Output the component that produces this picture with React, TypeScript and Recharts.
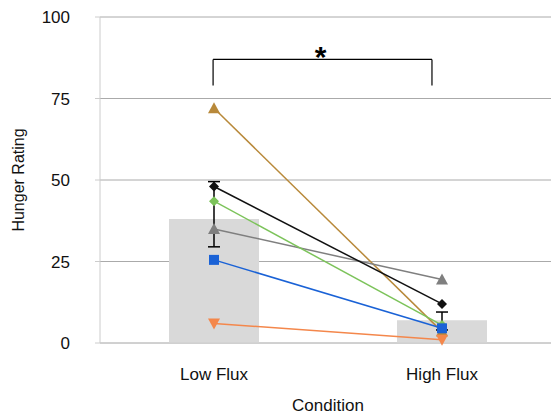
import {
  Bar,
  CartesianGrid,
  ComposedChart,
  ErrorBar,
  Label,
  Line,
  ReferenceLine,
  XAxis,
  YAxis,
} from "recharts";

const conditions = ["Low Flux", "High Flux"];
const meanRating = [38, 7];
const errorSpan = [
  [8.5, 11.5],
  [3, 2.5],
];
const goldRatings = [72, 3.5];
const blackRatings = [48, 12];
const greenRatings = [43.5, 5.5];
const grayRatings = [35, 19.5];
const blueRatings = [25.5, 4.5];
const orangeRatings = [6, 1];
const yTicks = [0, 25, 50, 75, 100];
// significance bracket, x in fraction of plot width
const bracketX = [0.248, 0.728];
const bracketTop = 87;
const bracketFoot = 79;

const data = conditions.map((name, i) => ({
  name,
  mean: meanRating[i],
  err: errorSpan[i],
  gold: goldRatings[i],
  black: blackRatings[i],
  green: greenRatings[i],
  gray: grayRatings[i],
  blue: blueRatings[i],
  orange: orangeRatings[i],
}));

const font = "'Liberation Sans', Arial, sans-serif";

function marker(shape: string, color: string) {
  return (props: any) => {
    const { cx, cy, index } = props;
    const k = `${shape}-${color}-${index}`;
    if (shape === "up")
      return <polygon key={k} points={`${cx},${cy - 6} ${cx - 6},${cy + 5} ${cx + 6},${cy + 5}`} fill={color} />;
    if (shape === "down")
      return <polygon key={k} points={`${cx},${cy + 6} ${cx - 6},${cy - 5} ${cx + 6},${cy - 5}`} fill={color} />;
    if (shape === "diamond")
      return <polygon key={k} points={`${cx},${cy - 5} ${cx + 5},${cy} ${cx},${cy + 5} ${cx - 5},${cy}`} fill={color} />;
    return <rect key={k} x={cx - 5} y={cy - 5} width={10} height={10} fill={color} />;
  };
}

const series = [
  { key: "gold", color: "#b8893a", shape: "up" },
  { key: "orange", color: "#f4874b", shape: "down" },
  { key: "gray", color: "#7f7f7f", shape: "up" },
  { key: "green", color: "#7cc35a", shape: "diamond" },
  { key: "black", color: "#111111", shape: "diamond" },
  { key: "blue", color: "#1a62d6", shape: "square" },
];

export default function App() {
  return (
    <div style={{ position: "absolute", left: 0, top: 0, width: 551, overflow: "hidden" }}>
      <ComposedChart
        width={551}
        height={415}
        data={data}
        margin={{ top: 17, right: -5, bottom: 0, left: 0 }}
        style={{ fontFamily: font }}
      >
        <CartesianGrid vertical={false} stroke="#aaaaaa" />
        <XAxis
          dataKey="name"
          height={72}
          tickLine={false}
          axisLine={{ stroke: "#cccccc" }}
          tickMargin={19}
          tick={{ fill: "#111", fontSize: 17 }}
        >
          <Label value="Condition" position="insideBottom" offset={4} fill="#111" fontSize={17} />
        </XAxis>
        <XAxis xAxisId="bracket" type="number" domain={[0, 1]} hide />
        <YAxis
          width={100}
          domain={[0, 100]}
          ticks={yTicks}
          tickSize={5}
          tickMargin={25}
          tickLine={{ stroke: "#cccccc" }}
          axisLine={{ stroke: "#cccccc" }}
          tick={{ fill: "#111", fontSize: 17 }}
        >
          <Label value="Hunger Rating" angle={-90} position="center" dx={-32} fill="#111" fontSize={16} />
        </YAxis>
        <Bar dataKey="mean" fill="#d9d9d9" barSize={90} isAnimationActive={false}>
          <ErrorBar dataKey="err" width={6} stroke="#000" strokeWidth={1.5} />
        </Bar>
        {series.map((s) => (
          <Line
            key={s.key}
            dataKey={s.key}
            stroke={s.color}
            strokeWidth={1.5}
            dot={marker(s.shape, s.color)}
            activeDot={false}
            isAnimationActive={false}
          />
        ))}
        <ReferenceLine
          xAxisId="bracket"
          segment={[
            { x: bracketX[0], y: bracketTop },
            { x: bracketX[1], y: bracketTop },
          ]}
          stroke="#000"
          strokeWidth={1.2}
          ifOverflow="visible"
        >
          <Label value="*" position="top" offset={-8} dx={-2} fontSize={30} fontWeight="bold" fill="#000" />
        </ReferenceLine>
        <ReferenceLine
          xAxisId="bracket"
          segment={[
            { x: bracketX[0], y: bracketTop },
            { x: bracketX[0], y: bracketFoot },
          ]}
          stroke="#000"
          strokeWidth={1.2}
          ifOverflow="visible"
        />
        <ReferenceLine
          xAxisId="bracket"
          segment={[
            { x: bracketX[1], y: bracketTop },
            { x: bracketX[1], y: bracketFoot },
          ]}
          stroke="#000"
          strokeWidth={1.2}
          ifOverflow="visible"
        />
      </ComposedChart>
    </div>
  );
}
